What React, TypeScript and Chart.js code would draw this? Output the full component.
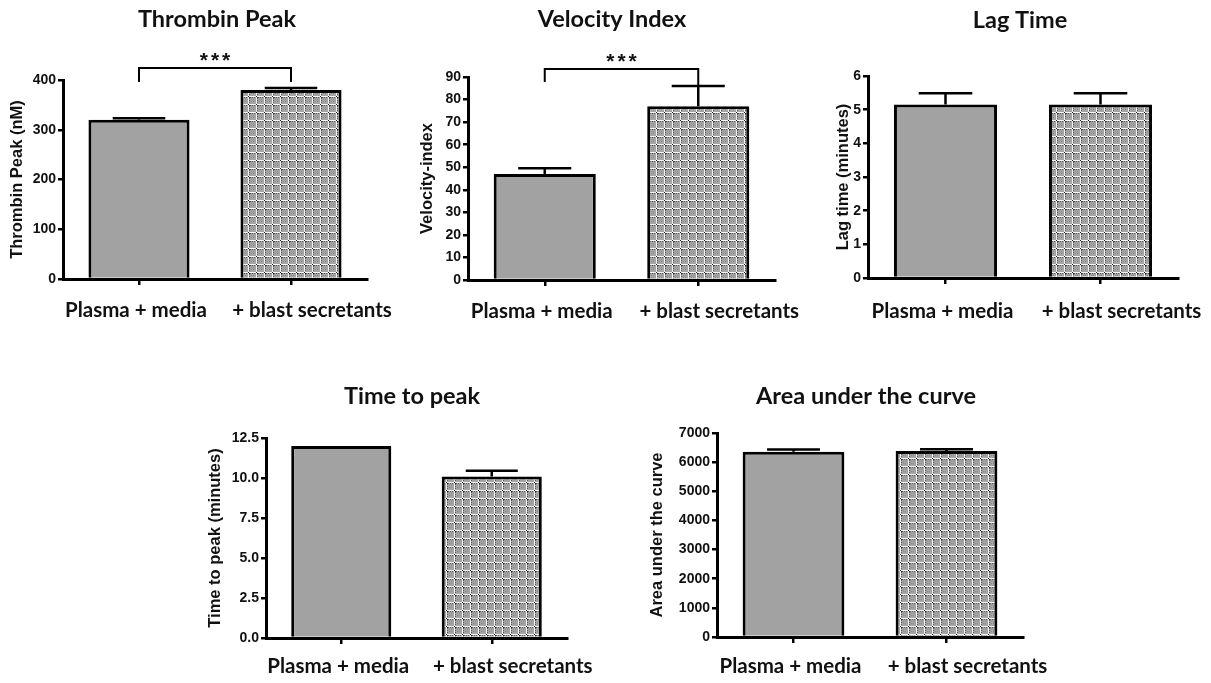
import React, { useEffect, useRef } from 'react';
import { Chart, registerables } from 'chart.js';

Chart.register(...registerables);

// ---------------- data ----------------
const categories = ['Plasma + media', '+ blast secretants'];

const thrombinPeak = [320, 380];
const thrombinPeakErr = [3, 4];
const thrombinTicks = { max: 400, step: 100 };
const thrombinSig = { text: '***', y: 424, leftEnd: 396, rightEnd: 396 };

const velocityIndex = [47, 77];
const velocityIndexErr = [2.5, 9];
const velocityTicks = { max: 90, step: 10 };
const velocitySig = { text: '***', y: 93.5, leftEnd: 87.8, rightEnd: 86 };

const lagTime = [5.15, 5.15];
const lagTimeErr = [0.34, 0.34];
const lagTicks = { max: 6, step: 1 };

const timeToPeak = [12.0, 10.1];
const timeToPeakErr = [0, 0.35];
const ttpTicks = { max: 12.5, step: 2.5 };

const areaUnderCurve = [6360, 6380];
const areaUnderCurveErr = [70, 60];
const aucTicks = { max: 7000, step: 1000 };

// ---------------- styling / layout ----------------
const SOLID = '#a2a2a2';
const TITLE_FONT = 'bold 23.5px Lato';
const XLABEL_FONT = 'bold 20.5px Lato';
const XLABEL_SHIFT = [-3, 21];
const TICK_FONT = { family: '"Liberation Sans", Arial', weight: 'bold' as const, size: 14 };
const YTITLE_FONT = { family: '"Liberation Sans", Arial', weight: 'bold' as const, size: 16.5 };

type Panel = {
  title: string;
  yTitle: string;
  values: number[];
  errors: number[];
  ticks: { max: number; step: number };
  decimals: number;
  sig?: { text: string; y: number; leftEnd: number; rightEnd: number };
  box: { x: number; y: number; w: number; h: number };
  area: { left: number; top: number; right: number; bottom: number };
  titleX: number;
  titleBaseline: number;
  yTitleCenter: number;
  xLabelBaseline: number;
};

const panels: Panel[] = [
  {
    title: 'Thrombin Peak', yTitle: 'Thrombin Peak (nM)', values: thrombinPeak, errors: thrombinPeakErr,
    ticks: thrombinTicks, decimals: 0, sig: thrombinSig,
    box: { x: 0, y: 0, w: 400, h: 330 }, area: { left: 63, top: 80, right: 367, bottom: 279 },
    titleX: 217, titleBaseline: 27, yTitleCenter: 17, xLabelBaseline: 317,
  },
  {
    title: 'Velocity Index', yTitle: 'Velocity-index', values: velocityIndex, errors: velocityIndexErr,
    ticks: velocityTicks, decimals: 0, sig: velocitySig,
    box: { x: 400, y: 0, w: 400, h: 330 }, area: { left: 68, top: 77, right: 375, bottom: 280 },
    titleX: 212, titleBaseline: 27, yTitleCenter: 27, xLabelBaseline: 318,
  },
  {
    title: 'Lag Time', yTitle: 'Lag time (minutes)', values: lagTime, errors: lagTimeErr,
    ticks: lagTicks, decimals: 0,
    box: { x: 800, y: 0, w: 411, h: 330 }, area: { left: 68, top: 76, right: 378, bottom: 278 },
    titleX: 220, titleBaseline: 28, yTitleCenter: 43, xLabelBaseline: 318,
  },
  {
    title: 'Time to peak', yTitle: 'Time to peak (minutes)', values: timeToPeak, errors: timeToPeakErr,
    ticks: ttpTicks, decimals: 1,
    box: { x: 190, y: 330, w: 420, h: 353 }, area: { left: 76, top: 108, right: 377, bottom: 308 },
    titleX: 222, titleBaseline: 74, yTitleCenter: 25, xLabelBaseline: 343,
  },
  {
    title: 'Area under the curve', yTitle: 'Area under the curve', values: areaUnderCurve, errors: areaUnderCurveErr,
    ticks: aucTicks, decimals: 0,
    box: { x: 620, y: 330, w: 440, h: 353 }, area: { left: 97, top: 103, right: 403, bottom: 307 },
    titleX: 246, titleBaseline: 74, yTitleCenter: 37, xLabelBaseline: 343,
  },
];

function makePattern(): CanvasPattern | string {
  const c = document.createElement('canvas');
  c.width = 8;
  c.height = 8;
  const g = c.getContext('2d');
  if (!g) return SOLID;
  g.fillStyle = '#a4a4a4';
  g.fillRect(0, 0, 8, 8);
  g.fillStyle = '#8a8a8a';
  g.fillRect(3, 3, 1, 1);
  g.fillRect(5, 5, 1, 1);
  g.fillRect(3, 5, 1, 1);
  g.fillRect(5, 3, 1, 1);
  g.fillStyle = '#f4f4f4';
  g.fillRect(0, 0, 1, 8);
  g.fillRect(0, 0, 8, 1);
  g.fillStyle = '#585858';
  g.fillRect(1, 2, 1, 1);
  g.fillRect(1, 4, 1, 1);
  g.fillRect(1, 6, 1, 1);
  g.fillRect(2, 1, 1, 1);
  g.fillRect(4, 1, 1, 1);
  g.fillRect(6, 1, 1, 1);
  g.fillStyle = '#222';
  g.fillRect(0, 0, 1, 1);
  g.fillRect(1, 1, 1, 1);
  const p = g.createPattern(c, 'repeat');
  return p || SOLID;
}

function ChartPanel({ p }: { p: Panel }) {
  const ref = useRef<HTMLCanvasElement | null>(null);

  useEffect(() => {
    const canvas = ref.current;
    if (!canvas) return;
    const pattern = makePattern();
    const tickLen = 6;

    const textPlugin = {
      id: 'panelText',
      afterDraw(chart: any) {
        const ctx = chart.ctx;
        const xs = chart.scales.x;
        ctx.save();
        ctx.fillStyle = '#111';
        ctx.textAlign = 'center';
        ctx.textBaseline = 'alphabetic';
        ctx.font = TITLE_FONT;
        ctx.fillText(p.title, p.titleX, p.titleBaseline);
        ctx.font = XLABEL_FONT;
        categories.forEach((label, i) => {
          ctx.fillText(label, xs.getPixelForValue(i) + XLABEL_SHIFT[i], p.xLabelBaseline);
        });
        ctx.restore();
      },
    };

    const errorBars = {
      id: 'errorBars',
      afterDatasetsDraw(chart: any) {
        const meta = chart.getDatasetMeta(0);
        const ys = chart.scales.y;
        const ctx = chart.ctx;
        ctx.save();
        ctx.strokeStyle = '#000';
        ctx.lineWidth = 2.5;
        meta.data.forEach((bar: any, i: number) => {
          const e = p.errors[i];
          if (!e) return;
          const v = p.values[i];
          const yBar = ys.getPixelForValue(v);
          const yTop = ys.getPixelForValue(v + e);
          const half = bar.width * 0.26;
          ctx.beginPath();
          ctx.moveTo(bar.x, yBar);
          ctx.lineTo(bar.x, yTop);
          ctx.moveTo(bar.x - half, yTop);
          ctx.lineTo(bar.x + half, yTop);
          ctx.stroke();
        });
        ctx.restore();
      },
    };

    const bracket = {
      id: 'sigBracket',
      afterDraw(chart: any) {
        if (!p.sig) return;
        const meta = chart.getDatasetMeta(0);
        const ys = chart.scales.y;
        const ctx = chart.ctx;
        const x1 = meta.data[0].x;
        const x2 = meta.data[1].x;
        const yb = ys.getPixelForValue(p.sig.y);
        const yl = ys.getPixelForValue(p.sig.leftEnd);
        const yr = ys.getPixelForValue(p.sig.rightEnd);
        ctx.save();
        ctx.strokeStyle = '#000';
        ctx.lineWidth = 2;
        ctx.beginPath();
        ctx.moveTo(x1, yl);
        ctx.lineTo(x1, yb);
        ctx.lineTo(x2, yb);
        ctx.lineTo(x2, yr);
        ctx.stroke();
        ctx.fillStyle = '#111';
        ctx.font = 'bold 21px "Liberation Sans", Arial';
        ctx.textAlign = 'center';
        ctx.textBaseline = 'alphabetic';
        try { (ctx as any).letterSpacing = '3px'; } catch (e) { /* ignore */ }
        ctx.fillText(p.sig.text, (x1 + x2) / 2 + 1.5, yb - 1);
        ctx.restore();
      },
    };

    const chart = new Chart(canvas, {
      type: 'bar',
      data: {
        labels: categories,
        datasets: [
          {
            data: p.values,
            backgroundColor: [SOLID, pattern as any],
            borderColor: '#000',
            borderWidth: 3,
            borderSkipped: 'start',
            barPercentage: 0.665,
            categoryPercentage: 1,
          },
        ],
      },
      options: {
        responsive: false,
        animation: false,
        devicePixelRatio: 1,
        layout: { padding: { left: 0, right: p.box.w - p.area.right, top: p.area.top, bottom: 0 } },
        plugins: {
          legend: { display: false },
          tooltip: { enabled: false },
          title: { display: false },
        },
        scales: {
          x: {
            grid: {
              display: true,
              drawOnChartArea: false,
              drawTicks: true,
              tickLength: tickLen,
              lineWidth: 2.5,
              color: '#000',
              offset: false,
            },
            border: { display: true, width: 3, color: '#000' },
            ticks: { display: false },
            afterFit: (s: any) => {
              s.height = p.box.h - p.area.bottom;
            },
          },
          y: {
            min: 0,
            max: p.ticks.max,
            grid: {
              display: true,
              drawOnChartArea: false,
              drawTicks: true,
              tickLength: 5,
              lineWidth: 2.5,
              color: '#000',
            },
            border: { display: true, width: 3, color: '#000' },
            ticks: {
              stepSize: p.ticks.step,
              color: '#111',
              font: TICK_FONT,
              padding: 2,
              callback: (v: any) => Number(v).toFixed(p.decimals),
            },
            title: {
              display: true,
              text: p.yTitle,
              color: '#111',
              font: YTITLE_FONT,
              padding: { top: p.yTitleCenter - YTITLE_FONT.size * 0.6, bottom: 0 },
            },
            afterFit: (s: any) => {
              s.width = p.area.left;
            },
          },
        },
      },
      plugins: [errorBars, bracket, textPlugin],
    });

    return () => chart.destroy();
  }, [p]);

  return (
    <div style={{ position: 'absolute', left: p.box.x, top: p.box.y, width: p.box.w, height: p.box.h }}>
      <canvas ref={ref} width={p.box.w} height={p.box.h} style={{ width: p.box.w, height: p.box.h, display: 'block' }} />
    </div>
  );
}

export default function App() {
  return (
    <div style={{ position: 'absolute', left: 0, top: 0, width: 1211, height: 683, background: '#fff', overflow: 'hidden' }}>
      {panels.map((p) => (
        <ChartPanel key={p.title} p={p} />
      ))}
    </div>
  );
}
